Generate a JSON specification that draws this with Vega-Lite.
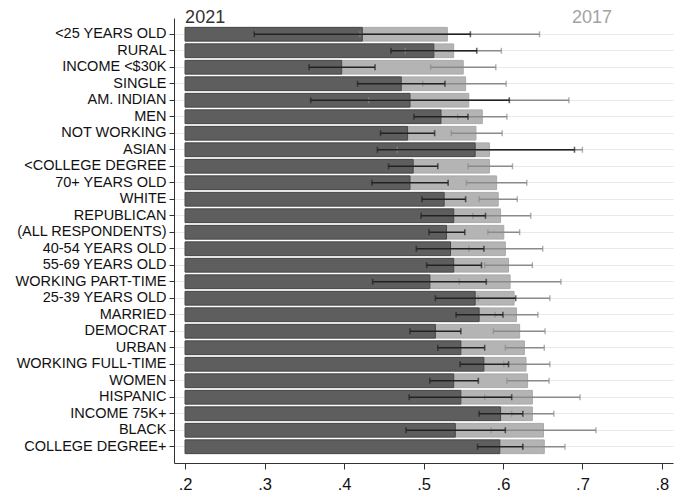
{
  "$schema": "https://vega.github.io/schema/vega-lite/v6.json",
  "width": 499,
  "height": 445,
  "autosize": {"type": "none"},
  "padding": {"left": 174, "top": 18, "right": 10, "bottom": 35},
  "background": "white",
  "config": {
    "view": {"stroke": null},
    "font": "Liberation Sans",
    "axisY": {
      "title": null,
      "domainColor": "#333333",
      "domainWidth": 1,
      "tickColor": "#333333",
      "tickSize": 5,
      "bandPosition": 0.5,
      "grid": true,
      "gridColor": "#e2ebee",
      "gridWidth": 1,
      "labelFont": "Liberation Sans",
      "labelFontSize": 14.5,
      "labelColor": "#111111",
      "labelPadding": 3,
      "labelLimit": 200
    },
    "axisX": {
      "title": null,
      "grid": false,
      "domainColor": "#333333",
      "tickColor": "#333333",
      "tickSize": 6,
      "labelFont": "Liberation Sans",
      "labelFontSize": 16.5,
      "labelColor": "#111111",
      "labelPadding": 7
    }
  },
  "datasets": {
    "ci": [
      {"g": "<25 YEARS OLD", "year": 2021, "v": 0.423, "lo": 0.287, "hi": 0.559},
      {"g": "<25 YEARS OLD", "year": 2017, "v": 0.530, "lo": 0.420, "hi": 0.646},
      {"g": "RURAL", "year": 2021, "v": 0.513, "lo": 0.459, "hi": 0.567},
      {"g": "RURAL", "year": 2017, "v": 0.538, "lo": 0.477, "hi": 0.598},
      {"g": "INCOME <$30K", "year": 2021, "v": 0.397, "lo": 0.356, "hi": 0.439},
      {"g": "INCOME <$30K", "year": 2017, "v": 0.550, "lo": 0.509, "hi": 0.591},
      {"g": "SINGLE", "year": 2021, "v": 0.472, "lo": 0.417, "hi": 0.527},
      {"g": "SINGLE", "year": 2017, "v": 0.553, "lo": 0.499, "hi": 0.604},
      {"g": "AM. INDIAN", "year": 2021, "v": 0.483, "lo": 0.358, "hi": 0.608},
      {"g": "AM. INDIAN", "year": 2017, "v": 0.557, "lo": 0.431, "hi": 0.683},
      {"g": "MEN", "year": 2021, "v": 0.522, "lo": 0.488, "hi": 0.556},
      {"g": "MEN", "year": 2017, "v": 0.574, "lo": 0.543, "hi": 0.605},
      {"g": "NOT WORKING", "year": 2021, "v": 0.480, "lo": 0.446, "hi": 0.514},
      {"g": "NOT WORKING", "year": 2017, "v": 0.566, "lo": 0.535, "hi": 0.599},
      {"g": "ASIAN", "year": 2021, "v": 0.565, "lo": 0.442, "hi": 0.690},
      {"g": "ASIAN", "year": 2017, "v": 0.583, "lo": 0.467, "hi": 0.700},
      {"g": "<COLLEGE DEGREE", "year": 2021, "v": 0.487, "lo": 0.456, "hi": 0.518},
      {"g": "<COLLEGE DEGREE", "year": 2017, "v": 0.583, "lo": 0.556, "hi": 0.612},
      {"g": "70+ YEARS OLD", "year": 2021, "v": 0.483, "lo": 0.435, "hi": 0.531},
      {"g": "70+ YEARS OLD", "year": 2017, "v": 0.592, "lo": 0.554, "hi": 0.630},
      {"g": "WHITE", "year": 2021, "v": 0.526, "lo": 0.498, "hi": 0.553},
      {"g": "WHITE", "year": 2017, "v": 0.594, "lo": 0.570, "hi": 0.618},
      {"g": "REPUBLICAN", "year": 2021, "v": 0.538, "lo": 0.497, "hi": 0.578},
      {"g": "REPUBLICAN", "year": 2017, "v": 0.597, "lo": 0.562, "hi": 0.635},
      {"g": "(ALL RESPONDENTS)", "year": 2021, "v": 0.529, "lo": 0.507, "hi": 0.552},
      {"g": "(ALL RESPONDENTS)", "year": 2017, "v": 0.601, "lo": 0.581, "hi": 0.621},
      {"g": "40-54 YEARS OLD", "year": 2021, "v": 0.534, "lo": 0.491, "hi": 0.576},
      {"g": "40-54 YEARS OLD", "year": 2017, "v": 0.603, "lo": 0.557, "hi": 0.650},
      {"g": "55-69 YEARS OLD", "year": 2021, "v": 0.538, "lo": 0.504, "hi": 0.573},
      {"g": "55-69 YEARS OLD", "year": 2017, "v": 0.607, "lo": 0.577, "hi": 0.637},
      {"g": "WORKING PART-TIME", "year": 2021, "v": 0.508, "lo": 0.436, "hi": 0.579},
      {"g": "WORKING PART-TIME", "year": 2017, "v": 0.609, "lo": 0.545, "hi": 0.673},
      {"g": "25-39 YEARS OLD", "year": 2021, "v": 0.565, "lo": 0.515, "hi": 0.616},
      {"g": "25-39 YEARS OLD", "year": 2017, "v": 0.614, "lo": 0.569, "hi": 0.659},
      {"g": "MARRIED", "year": 2021, "v": 0.570, "lo": 0.541, "hi": 0.600},
      {"g": "MARRIED", "year": 2017, "v": 0.617, "lo": 0.590, "hi": 0.644},
      {"g": "DEMOCRAT", "year": 2021, "v": 0.515, "lo": 0.483, "hi": 0.547},
      {"g": "DEMOCRAT", "year": 2017, "v": 0.621, "lo": 0.588, "hi": 0.653},
      {"g": "URBAN", "year": 2021, "v": 0.547, "lo": 0.518, "hi": 0.577},
      {"g": "URBAN", "year": 2017, "v": 0.627, "lo": 0.603, "hi": 0.652},
      {"g": "WORKING FULL-TIME", "year": 2021, "v": 0.576, "lo": 0.546, "hi": 0.607},
      {"g": "WORKING FULL-TIME", "year": 2017, "v": 0.629, "lo": 0.601, "hi": 0.659},
      {"g": "WOMEN", "year": 2021, "v": 0.538, "lo": 0.508, "hi": 0.569},
      {"g": "WOMEN", "year": 2017, "v": 0.631, "lo": 0.605, "hi": 0.658},
      {"g": "HISPANIC", "year": 2021, "v": 0.547, "lo": 0.482, "hi": 0.611},
      {"g": "HISPANIC", "year": 2017, "v": 0.637, "lo": 0.577, "hi": 0.697},
      {"g": "INCOME 75K+", "year": 2021, "v": 0.597, "lo": 0.570, "hi": 0.625},
      {"g": "INCOME 75K+", "year": 2017, "v": 0.637, "lo": 0.611, "hi": 0.664},
      {"g": "BLACK", "year": 2021, "v": 0.540, "lo": 0.478, "hi": 0.603},
      {"g": "BLACK", "year": 2017, "v": 0.651, "lo": 0.585, "hi": 0.717},
      {"g": "COLLEGE DEGREE+", "year": 2021, "v": 0.596, "lo": 0.568, "hi": 0.625},
      {"g": "COLLEGE DEGREE+", "year": 2017, "v": 0.652, "lo": 0.625, "hi": 0.678}
    ],
    "years": [
      {"label": "2021", "pos": 0.2},
      {"label": "2017", "pos": 0.687}
    ]
  },
  "layer": [
    {
      "data": {"name": "ci"},
      "transform": [{"filter": "datum.year == 2017"}],
      "mark": {"type": "bar", "color": "#b4b4b4", "stroke": "#a9a9a9", "strokeWidth": 1},
      "encoding": {
        "y": {
          "field": "g", "type": "nominal",
          "sort": ["<25 YEARS OLD", "RURAL", "INCOME <$30K", "SINGLE", "AM. INDIAN", "MEN", "NOT WORKING", "ASIAN", "<COLLEGE DEGREE", "70+ YEARS OLD", "WHITE", "REPUBLICAN", "(ALL RESPONDENTS)", "40-54 YEARS OLD", "55-69 YEARS OLD", "WORKING PART-TIME", "25-39 YEARS OLD", "MARRIED", "DEMOCRAT", "URBAN", "WORKING FULL-TIME", "WOMEN", "HISPANIC", "INCOME 75K+", "BLACK", "COLLEGE DEGREE+"],
          "scale": {"paddingInner": 0.17, "paddingOuter": 0.57},
          "axis": {"title": null}
        },
        "x": {
          "field": "v", "type": "quantitative",
          "scale": {"domain": [0.186, 0.814], "nice": false, "zero": false},
          "axis": {
            "title": null,
            "values": [0.2, 0.3, 0.4, 0.5, 0.6, 0.7, 0.8],
            "labelExpr": "substring(format(datum.value, '.1f'), 1)"
          }
        },
        "x2": {"datum": 0.2}
      }
    },
    {
      "data": {"name": "ci"},
      "transform": [{"filter": "datum.year == 2021"}],
      "mark": {"type": "bar", "color": "#5e5e5e", "stroke": "#484848", "strokeWidth": 1},
      "encoding": {
        "y": {"field": "g", "type": "nominal", "sort": ["<25 YEARS OLD", "RURAL", "INCOME <$30K", "SINGLE", "AM. INDIAN", "MEN", "NOT WORKING", "ASIAN", "<COLLEGE DEGREE", "70+ YEARS OLD", "WHITE", "REPUBLICAN", "(ALL RESPONDENTS)", "40-54 YEARS OLD", "55-69 YEARS OLD", "WORKING PART-TIME", "25-39 YEARS OLD", "MARRIED", "DEMOCRAT", "URBAN", "WORKING FULL-TIME", "WOMEN", "HISPANIC", "INCOME 75K+", "BLACK", "COLLEGE DEGREE+"], "axis": {"title": null}},
        "x": {"field": "v", "type": "quantitative", "axis": {"title": null}},
        "x2": {"datum": 0.2}
      }
    },
    {
      "data": {"name": "ci"},
      "transform": [{"filter": "datum.year == 2017"}],
      "mark": {"type": "errorbar", "rule": {"color": "#8a8a8a", "strokeWidth": 1.4}, "ticks": {"color": "#8a8a8a", "size": 6, "thickness": 1.4}},
      "encoding": {
        "y": {"field": "g", "type": "nominal", "sort": ["<25 YEARS OLD", "RURAL", "INCOME <$30K", "SINGLE", "AM. INDIAN", "MEN", "NOT WORKING", "ASIAN", "<COLLEGE DEGREE", "70+ YEARS OLD", "WHITE", "REPUBLICAN", "(ALL RESPONDENTS)", "40-54 YEARS OLD", "55-69 YEARS OLD", "WORKING PART-TIME", "25-39 YEARS OLD", "MARRIED", "DEMOCRAT", "URBAN", "WORKING FULL-TIME", "WOMEN", "HISPANIC", "INCOME 75K+", "BLACK", "COLLEGE DEGREE+"], "axis": {"title": null}},
        "x": {"field": "lo", "type": "quantitative", "axis": {"title": null}},
        "x2": {"field": "hi"}
      }
    },
    {
      "data": {"name": "ci"},
      "transform": [{"filter": "datum.year == 2021"}],
      "mark": {"type": "errorbar", "rule": {"color": "#222222", "strokeWidth": 1.6}, "ticks": {"color": "#222222", "size": 6, "thickness": 1.6}},
      "encoding": {
        "y": {"field": "g", "type": "nominal", "sort": ["<25 YEARS OLD", "RURAL", "INCOME <$30K", "SINGLE", "AM. INDIAN", "MEN", "NOT WORKING", "ASIAN", "<COLLEGE DEGREE", "70+ YEARS OLD", "WHITE", "REPUBLICAN", "(ALL RESPONDENTS)", "40-54 YEARS OLD", "55-69 YEARS OLD", "WORKING PART-TIME", "25-39 YEARS OLD", "MARRIED", "DEMOCRAT", "URBAN", "WORKING FULL-TIME", "WOMEN", "HISPANIC", "INCOME 75K+", "BLACK", "COLLEGE DEGREE+"], "axis": {"title": null}},
        "x": {"field": "lo", "type": "quantitative", "axis": {"title": null}},
        "x2": {"field": "hi"}
      }
    },
    {
      "data": {"name": "years"},
      "mark": {"type": "text", "align": "left", "baseline": "middle", "font": "Liberation Sans", "fontSize": 18},
      "encoding": {
        "x": {"field": "pos", "type": "quantitative", "axis": {"title": null}},
        "y": {"value": 0},
        "text": {"field": "label"},
        "color": {"field": "label", "type": "nominal", "scale": {"domain": ["2021", "2017"], "range": ["#333333", "#a3a3a3"]}, "legend": null}
      }
    }
  ]
}
